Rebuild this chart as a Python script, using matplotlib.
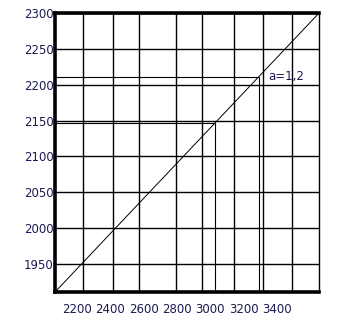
import matplotlib.pyplot as plt

# axis ticks (labels as typed on the chart)
x_ticks = [2200, 2400, 2600, 2800, 3000, 3200, 3400]
y_ticks = [1950, 2000, 2050, 2100, 2150, 2200, 2250, 2300]

# vertical grid lines do not sit on the labelled ticks in the original
x_grid = [2234, 2414, 2574, 2794, 2952, 3144, 3314, 3492]

# diagonal line, corner to corner
diag_x = [2068, 3652]
diag_y = [1911, 2300]

# the two marked points on the diagonal
pts_x = [3028, 3292]
pts_y = [2147, 2211]
label = "a=1,2"

fig = plt.figure(figsize=(3.55, 3.19), dpi=100)
ax = fig.add_axes([0.155, 0.0846, 0.7436, 0.8744])

ax.set_xlim(diag_x[0], diag_x[1])
ax.set_ylim(diag_y[0], diag_y[1])

ax.plot(diag_x, diag_y, color="black", lw=0.7)

# drop lines from the points to the axes
ax.hlines(pts_y, diag_x[0], pts_x, color="black", lw=0.8)
ax.vlines(pts_x, diag_y[0], pts_y, color="black", lw=0.8)

ax.text(3346, 2212, label, fontsize=8.5, color="#1a1a50", va="center", ha="left")

ax.set_xticks(x_ticks)
ax.set_yticks(y_ticks)
ax.set_xticks(x_grid, minor=True)
ax.grid(False)
ax.grid(True, which="minor", axis="x", color="black", lw=1.0)
ax.grid(True, which="major", axis="y", color="black", lw=1.0)
ax.tick_params(which="both", length=0, labelsize=8.5, labelcolor="#1a1a50")
ax.tick_params(axis="x", pad=8)
ax.tick_params(axis="y", pad=1)

for side in ["left", "bottom", "top"]:
    ax.spines[side].set_linewidth(2.6)
ax.spines["right"].set_linewidth(1.0)

fig.savefig("out.png", dpi=100)
